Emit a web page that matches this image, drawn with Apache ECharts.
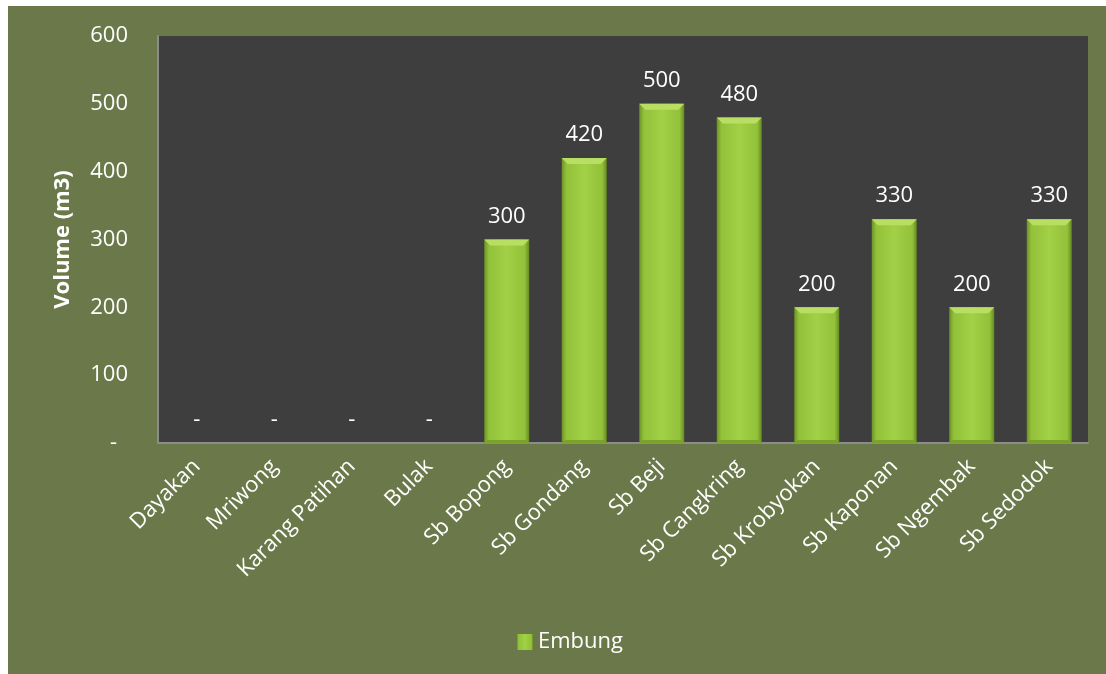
<!DOCTYPE html>
<html>
<head>
<meta charset="utf-8">
<script src="https://cdn.jsdelivr.net/npm/echarts@6/dist/echarts.min.js"></script>
<style>
  html, body { margin: 0; padding: 0; background: #ffffff; }
  #chart { position: absolute; left: 8px; top: 6px; width: 1098px; height: 668px; }
</style>
</head>
<body>
<div id="chart"></div>
<script>
// Embung storage volumes per location (m3)
const categories = ['Dayakan', 'Mriwong', 'Karang Patihan', 'Bulak', 'Sb Bopong', 'Sb Gondang',
  'Sb Beji', 'Sb Cangkring', 'Sb Krobyokan', 'Sb Kaponan', 'Sb Ngembak', 'Sb Sedodok'];
const embung = [0, 0, 0, 0, 300, 420, 500, 480, 200, 330, 200, 330];
const yTicks = [0, 100, 200, 300, 400, 500, 600];
const seriesName = 'Embung';
const axisTitle = 'Volume (m3)';

const font = '"Open Sans", "Noto Sans", sans-serif';
const BAR_RATIO = 0.58;

const barFill = new echarts.graphic.LinearGradient(0, 0, 1, 0, [
  { offset: 0, color: '#6f9326' },
  { offset: 0.1, color: '#92c13a' },
  { offset: 0.5, color: '#a2d147' },
  { offset: 0.9, color: '#92c13a' },
  { offset: 1, color: '#678a22' }
]);

// lighter bevelled cap on top of each bar, darker lip at its foot
function renderBevel(params, api) {
  const v = api.value(1);
  if (!v) return null;
  const top = api.coord([api.value(0), v]);
  const base = api.coord([api.value(0), 0]);
  const w = api.size([1, 0])[0] * BAR_RATIO;
  const x0 = top[0] - w / 2, x1 = top[0] + w / 2;
  const b = 6;
  return {
    type: 'group',
    children: [
      {
        type: 'polygon',
        shape: { points: [[x0, top[1]], [x1, top[1]], [x1 - b, top[1] + b], [x0 + b, top[1] + b]] },
        style: { fill: '#b9df62' }
      },
      {
        type: 'polygon',
        shape: { points: [[x0, base[1]], [x1, base[1]], [x1 - 3, base[1] - 3], [x0 + 3, base[1] - 3]] },
        style: { fill: '#7aa22d' }
      }
    ]
  };
}

const chart = echarts.init(document.getElementById('chart'));
chart.setOption({
  backgroundColor: '#6b7849',
  animation: false,
  textStyle: { fontFamily: font },
  grid: {
    left: 150, top: 30, right: 18, bottom: 231,
    show: true, backgroundColor: '#3e3e3e', borderWidth: 0
  },
  legend: {
    data: [seriesName],
    left: 504,
    bottom: 16,
    icon: 'rect',
    itemWidth: 16,
    itemHeight: 16,
    itemGap: 6,
    textStyle: { color: '#ffffff', fontSize: 22, fontFamily: font }
  },
  xAxis: {
    type: 'category',
    data: categories,
    axisLine: { show: true, lineStyle: { color: '#8c8c8c', width: 2 } },
    axisTick: { show: false },
    axisLabel: {
      color: '#ffffff', fontSize: 22, fontFamily: font,
      rotate: 45, margin: 20, interval: 0
    }
  },
  yAxis: {
    type: 'value',
    min: yTicks[0],
    max: yTicks[yTicks.length - 1],
    interval: 100,
    name: axisTitle,
    nameLocation: 'middle',
    nameGap: 84,
    nameTextStyle: { color: '#ffffff', fontSize: 22, fontWeight: 'bold', fontFamily: font },
    axisLine: { show: true, lineStyle: { color: '#8c8c8c', width: 2 } },
    axisTick: { show: false },
    splitLine: { show: false },
    axisLabel: {
      color: '#ffffff', fontSize: 22, fontFamily: font, margin: 30,
      formatter: v => v === 0 ? '{dash|-}' : String(v),
      rich: { dash: { color: '#ffffff', fontSize: 22, fontFamily: font, padding: [0, 11, 0, 0] } }
    }
  },
  series: [{
    name: seriesName,
    type: 'bar',
    data: embung,
    barWidth: (BAR_RATIO * 100) + '%',
    itemStyle: { color: barFill },
    label: {
      show: true,
      position: 'top',
      distance: 12,
      color: '#ffffff',
      fontSize: 22,
      fontFamily: font,
      formatter: p => p.value === 0 ? '-' : String(p.value)
    }
  }, {
    name: 'bevel',
    type: 'custom',
    renderItem: renderBevel,
    data: embung.map((v, i) => [i, v]),
    z: 3,
    silent: true
  }]
});
</script>
</body>
</html>
